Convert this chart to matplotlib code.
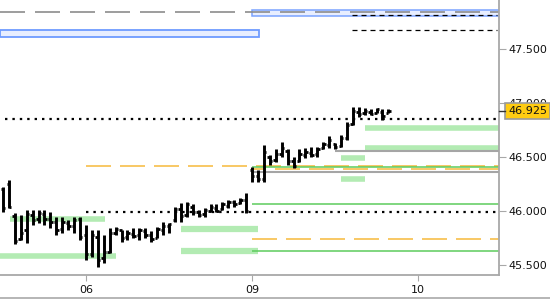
import matplotlib
matplotlib.use("Agg")
import matplotlib.pyplot as plt
from matplotlib.patches import Rectangle
from matplotlib.lines import Line2D
from matplotlib.transforms import blended_transform_factory

plt.rcParams['lines.scale_dashes'] = False

# ---- data ----
highs = [46.22, 46.29, 45.98, 45.96, 46.01, 46.01, 46.01, 46.01, 45.99, 45.94,
         45.94, 45.92, 45.94, 45.94, 45.87, 45.82, 45.82, 45.78, 45.84, 45.85,
         45.82, 45.82, 45.84, 45.84, 45.84, 45.81, 45.85, 45.90, 45.89, 46.04,
         46.07, 46.08, 46.06, 46.01, 46.03, 46.06, 46.06, 46.08, 46.10, 46.10,
         46.12, 46.17, 46.41, 46.38, 46.61, 46.52, 46.57, 46.64, 46.57, 46.50,
         46.57, 46.58, 46.59, 46.59, 46.64, 46.69, 46.63, 46.70, 46.82, 46.96,
         46.96, 46.95, 46.94, 46.95, 46.94, 46.94]
lows = [45.99, 46.03, 45.69, 45.73, 45.70, 45.87, 45.89, 45.87, 45.84, 45.78,
        45.80, 45.82, 45.80, 45.73, 45.55, 45.57, 45.48, 45.52, 45.61, 45.78,
        45.71, 45.73, 45.75, 45.73, 45.75, 45.71, 45.75, 45.78, 45.80, 45.90,
        45.90, 45.94, 45.96, 45.94, 45.94, 45.99, 45.99, 46.01, 46.03, 46.04,
        46.06, 45.98, 46.27, 46.27, 46.27, 46.43, 46.45, 46.50, 46.43, 46.40,
        46.45, 46.49, 46.50, 46.50, 46.57, 46.58, 46.57, 46.59, 46.66, 46.80,
        46.87, 46.89, 46.89, 46.91, 46.84, 46.91]
opens = [46.20, 46.25, 45.95, 45.74, 45.82, 45.96, 45.93, 45.97, 45.93, 45.90,
         45.83, 45.89, 45.86, 45.93, 45.78, 45.60, 45.76, 45.56, 45.62, 45.80,
         45.82, 45.76, 45.79, 45.78, 45.81, 45.78, 45.75, 45.82, 45.86, 45.92,
         46.02, 45.96, 46.04, 45.99, 45.97, 46.00, 46.03, 46.02, 46.05, 46.08,
         46.07, 46.10, 46.38, 46.32, 46.30, 46.50, 46.47, 46.53, 46.56, 46.46,
         46.46, 46.52, 46.54, 46.53, 46.58, 46.61, 46.62, 46.60, 46.68, 46.81,
         46.92, 46.91, 46.92, 46.91, 46.92, 46.91]
closes = [46.03, 46.04, 45.72, 45.80, 45.97, 45.92, 45.98, 45.93, 45.90, 45.82,
          45.90, 45.86, 45.92, 45.76, 45.60, 45.78, 45.55, 45.62, 45.80, 45.83,
          45.75, 45.80, 45.77, 45.82, 45.78, 45.74, 45.83, 45.86, 45.88, 46.02,
          45.95, 46.06, 45.99, 45.96, 46.01, 46.04, 46.00, 46.06, 46.08, 46.06,
          46.10, 46.00, 46.32, 46.30, 46.55, 46.46, 46.53, 46.58, 46.46, 46.42,
          46.53, 46.55, 46.52, 46.57, 46.62, 46.66, 46.59, 46.68, 46.80, 46.93,
          46.90, 46.93, 46.90, 46.94, 46.88, 46.925]
day_ticks = [14, 42, 70]
day_labels = ["06", "09", "10"]
y_ticks = [45.5, 46.0, 46.5, 47.0, 47.5]
last_price = 46.925

XMIN, XMAX = -0.5, 83.65
YMIN, YMAX = 45.407, 47.954

fig = plt.figure(figsize=(5.5, 3), dpi=100)
ax = fig.add_axes([0, 25 / 300, 499 / 550, 275 / 300])
ax.set_xlim(XMIN, XMAX)
ax.set_ylim(YMIN, YMAX)

px = 0.72  # points per pixel

# ---- reference lines / zones ----
ax.hlines(47.843, XMIN, XMAX, colors='#8c8c8c', lw=1.2, linestyles=[(0, (25 * px, 10 * px))], zorder=2)
ax.add_patch(Rectangle((XMIN, 47.611), 43.2 - XMIN, 47.676 - 47.611,
                       facecolor='#e8eeff', edgecolor='#6e9bff', lw=1.3, zorder=1))
ax.add_patch(Rectangle((42.0, 47.806), XMAX + 1 - 42.0, 47.861 - 47.806,
                       facecolor='#e8eeff', edgecolor='#7aa3ff', lw=1.1, zorder=1, clip_on=True))
for v in [47.815, 47.676]:
    ax.hlines(v, 58.85, 83.3, colors='black', lw=0.9, linestyles=[(0, (5 * px, 4 * px))], zorder=3)
dot = [(0, (2.4 * px, 5 * px))]
ax.hlines(46.852, 0.34, 83.3, colors='black', lw=1.6, linestyles=dot, zorder=3)
ax.hlines(45.995, 14, 83.3, colors='black', lw=1.6, linestyles=dot, zorder=3)
orange = '#f7b93a'
dash_o = [(0, (25 * px, 9 * px))]
ax.hlines(46.417, 14, XMAX, colors=orange, lw=1.1, linestyles=dash_o, zorder=2)
ax.hlines(46.386, 42.2, XMAX, colors=orange, lw=1.1, linestyles=[(12 * px, (25 * px, 9 * px))], zorder=2)
ax.hlines(45.738, 42.0, XMAX, colors=orange, lw=1.1, linestyles=dash_o, zorder=2)
green = '#5ccc5c'
for v in [46.410, 46.065, 45.630]:
    ax.hlines(v, 42.0, XMAX, colors=green, lw=1.1, zorder=2)
ax.hlines(46.358, 42.2, XMAX, colors='#a5a5a5', lw=1.5, zorder=2)
ax.hlines(46.551, 56.0, XMAX, colors='#a5a5a5', lw=1.5, zorder=2)
lg = '#b3ebb3'
ax.hlines(45.926, 1.18, 17.2, colors=lg, lw=4, zorder=1)
ax.hlines(45.583, XMIN, 19.05, colors=lg, lw=4, zorder=1)
ax.hlines(45.833, 30.0, 43.0, colors=lg, lw=4.5, zorder=1)
ax.hlines(45.630, 30.0, 43.0, colors=lg, lw=4.5, zorder=1)
ax.hlines(46.770, 61.0, XMAX, colors=lg, lw=4, zorder=1)
ax.hlines(46.585, 61.0, XMAX, colors=lg, lw=4, zorder=1)
ax.hlines(46.490, 57.0, 61.0, colors=lg, lw=4, zorder=1)
ax.hlines(46.300, 57.0, 61.0, colors=lg, lw=4, zorder=1)

# ---- OHLC bars ----
xs = list(range(len(highs)))
ax.vlines(xs, lows, highs, colors='black', lw=2.1, zorder=4)
tick = 0.4
ax.hlines(opens, [x - tick for x in xs], xs, colors='black', lw=2.0, zorder=4)
ax.hlines(closes, xs, [x + tick for x in xs], colors='black', lw=2.0, zorder=4)

# ---- axes styling ----
for s in ['top', 'left']:
    ax.spines[s].set_visible(False)
for s in ['right', 'bottom']:
    ax.spines[s].set_color('#a8a8a8')
    ax.spines[s].set_linewidth(1.3)
ax.yaxis.tick_right()
ax.set_yticks(y_ticks)
ax.set_yticklabels([f"{v:.3f}" for v in y_ticks])
ax.set_xticks(day_ticks)
ax.set_xticklabels(day_labels)
ax.tick_params(axis='y', length=5, color='#a8a8a8', labelsize=8, pad=2, labelcolor='#111111')
ax.tick_params(axis='x', length=4, color='#a8a8a8', labelsize=8, pad=3, labelcolor='#111111')

# last price label (covers the 47.000 tick label, as in the original)
tr = blended_transform_factory(ax.transAxes, ax.transData)
ax.text(1.0 + 9 / 499, last_price, f"{last_price:.3f}", transform=tr, ha='left', va='center',
        fontsize=8, color='#111111', zorder=10, clip_on=False,
        bbox=dict(boxstyle='square,pad=0.3', facecolor='#ffcc11', edgecolor='#9a9a9a', lw=1.2))
ax.add_line(Line2D([1.0, 1.0 + 6 / 499], [last_price, last_price], transform=tr,
                   color='#333333', lw=1, clip_on=False, zorder=10))

fig.add_artist(Line2D([0, 1], [2 / 300, 2 / 300], color='#b0b0b0', lw=1.3))

fig.savefig("out.png", dpi=100)
